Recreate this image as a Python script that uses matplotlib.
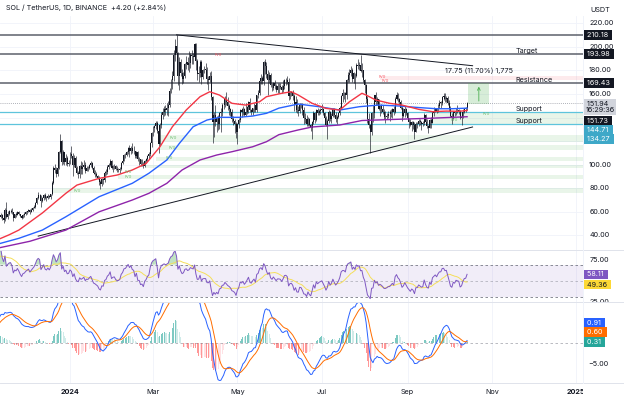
import numpy as np
import pandas as pd
import matplotlib
matplotlib.use("Agg")
import matplotlib.pyplot as plt
import matplotlib.dates as mdates
from matplotlib.lines import Line2D

plt.rcParams['font.family'] = ['Inter', 'DejaVu Sans']

# SOL/USDT daily (Binance)
# closes Oct 1 - Nov 10 2023, only used to warm up RSI / MACD
warmup_close = [23.9, 23.1, 23.3, 22.9, 22.6, 23.6, 23.4, 23.4, 22.1, 22.0,
                21.4, 21.3, 21.3, 21.5, 22.5, 24.0, 24.5, 24.4, 26.0, 29.0,
                30.0, 30.4, 31.5, 32.0, 32.5, 31.5, 32.0, 32.3, 33.5, 36.5, 38.3,
                41.6, 39.5, 39.8, 41.5, 41.0, 43.0, 42.5, 44.0, 45.5, 55.5]

# visible candles from Nov 11 2023, one line per month
close = [
    56.0, 57.5, 54.5, 53.0, 61.5, 56.0, 58.5, 60.5, 61.0, 59.5, 55.0, 58.0, 57.5, 60.0, 58.5, 56.5, 55.0, 57.5, 58.0, 59.5,
    60.5, 61.5, 60.0, 61.5, 63.0, 64.5, 67.5, 72.0, 74.5, 74.0, 69.0, 71.5, 74.5, 72.0, 71.5, 73.5, 72.5, 75.0, 84.5, 97.5, 95.5, 92.5, 97.0, 111.0, 120.5, 102.5, 110.5, 102.5, 106.0, 100.5, 101.5,
    109.5, 107.5, 99.5, 105.5, 97.0, 93.0, 92.0, 99.0, 96.5, 98.0, 100.0, 95.0, 97.5, 97.0, 99.5, 101.5, 97.5, 93.0, 92.0, 90.5, 89.0, 85.0, 83.5, 87.5, 87.0, 93.0, 94.0, 98.0, 99.5, 103.5, 97.0,
    98.5, 99.0, 96.5, 95.5, 95.5, 96.5, 101.5, 103.5, 108.0, 108.5, 111.0, 114.0, 112.0, 114.5, 112.0, 111.5, 107.0, 110.5, 104.5, 104.5, 100.5, 101.0, 98.5, 103.0, 104.5, 107.5, 109.0, 118.5, 126.5,
    131.0, 133.0, 135.5, 129.0, 117.5, 133.5, 142.5, 145.0, 147.5, 146.5, 148.0, 150.5, 162.5, 171.5, 175.0, 193.5, 201.0, 195.0, 175.5, 187.5, 178.0, 172.5, 175.0, 185.5, 187.5, 184.5, 186.5, 193.0, 192.0, 191.0, 202.5,
    188.0, 177.0, 177.5, 187.0, 174.5, 180.0, 180.5, 180.5, 172.5, 172.0, 175.5, 157.5, 136.5, 142.5, 136.0, 139.5, 134.5, 143.5, 144.5, 150.5, 151.0, 156.0, 153.0, 149.5, 147.5, 144.5, 138.5, 137.0, 134.5, 127.5,
    134.5, 138.0, 146.5, 145.0, 147.5, 142.5, 145.0, 149.0, 153.5, 146.0, 144.5, 148.0, 150.5, 146.0, 159.0, 161.0, 171.0, 173.5, 171.0, 187.0, 184.0, 177.0, 172.0, 176.0, 167.5, 165.0, 169.5, 166.5, 163.5, 166.5, 166.5,
    166.0, 163.0, 166.5, 171.5, 172.0, 170.5, 158.0, 161.0, 161.5, 158.5, 150.5, 153.5, 146.0, 145.5, 151.0, 150.5, 146.0, 139.5, 139.0, 134.5, 139.0, 134.0, 131.5, 136.5, 143.5, 138.0, 146.5, 143.5, 145.5, 146.5,
    147.5, 144.0, 140.0, 134.0, 137.0, 144.5, 139.0, 141.5, 147.0, 142.5, 138.5, 140.5, 143.5, 148.5, 158.0, 160.5, 160.5, 159.0, 171.5, 176.5, 178.0, 180.5, 173.0, 177.5, 175.0, 185.0, 183.5, 185.0, 179.5, 180.0, 172.0,
    167.5, 156.0, 139.0, 133.5, 127.5, 143.5, 144.0, 159.0, 153.0, 155.5, 147.5, 149.5, 147.5, 144.5, 140.5, 140.5, 141.5, 143.0, 143.0, 145.0, 147.0, 144.5, 156.0, 159.5, 155.5, 153.5, 148.5, 141.5, 143.5, 147.5, 143.5,
    139.5, 136.5, 133.5, 136.0, 134.0, 128.0, 134.5, 134.5, 137.5, 136.0, 134.5, 135.0, 142.0, 136.5, 132.5, 131.5, 138.0, 135.0, 143.5, 145.5, 147.5, 145.5, 149.5, 152.5, 152.5, 157.5, 158.0, 156.0, 156.5, 152.5,
    147.5, 141.0, 139.5, 144.5, 143.5, 146.5, 146.0, 145.5, 139.5, 140.5, 144.5, 147.5, 147.74, 151.94,
]
high = [
    59.5, 59.0, 58.5, 56.5, 63.5, 68.0, 60.5, 61.5, 62.0, 63.0, 60.0, 58.5, 59.5, 61.0, 60.5, 58.5, 57.0, 58.0, 60.0, 60.5,
    61.0, 62.5, 62.0, 63.0, 64.5, 66.0, 68.5, 73.0, 76.5, 75.5, 74.5, 72.5, 75.5, 76.0, 73.5, 75.0, 74.5, 75.5, 86.5, 99.0, 100.5, 98.0, 98.5, 112.0, 126.0, 121.0, 112.5, 111.0, 109.0, 107.0, 104.0,
    110.5, 115.5, 110.0, 108.0, 107.0, 98.5, 94.5, 100.0, 103.0, 102.5, 104.0, 102.5, 99.0, 99.0, 101.0, 103.5, 102.5, 98.5, 95.5, 94.0, 91.5, 90.0, 87.0, 89.0, 89.0, 94.5, 96.5, 99.5, 101.5, 105.0, 104.0,
    99.5, 101.0, 100.0, 98.5, 97.0, 98.0, 102.0, 104.5, 109.5, 110.0, 112.0, 115.0, 116.5, 116.0, 118.0, 115.5, 112.0, 112.0, 111.5, 106.5, 105.0, 104.5, 102.0, 104.0, 106.0, 108.5, 110.5, 119.5, 128.0,
    132.5, 134.0, 137.5, 137.0, 131.5, 135.0, 144.5, 148.0, 150.0, 150.5, 152.5, 154.0, 165.0, 172.5, 179.5, 197.5, 206.5, 210.2, 196.0, 191.0, 189.5, 181.0, 178.5, 186.5, 192.5, 191.0, 196.5, 194.5, 197.0, 194.5, 203.5,
    203.0, 189.5, 184.0, 188.5, 188.5, 181.5, 183.5, 186.5, 182.5, 175.0, 178.5, 179.5, 158.0, 145.0, 150.5, 141.0, 142.0, 145.0, 148.5, 152.5, 154.5, 158.0, 162.0, 157.5, 151.5, 148.5, 147.0, 141.5, 139.0, 136.5,
    135.5, 139.5, 147.5, 148.5, 149.5, 148.5, 152.0, 150.0, 154.0, 156.5, 147.0, 148.5, 152.0, 151.0, 159.5, 163.5, 172.5, 177.0, 175.0, 188.0, 189.5, 187.0, 180.0, 178.5, 177.5, 169.5, 170.5, 171.5, 168.5, 169.5, 169.0,
    169.0, 167.5, 172.0, 172.5, 174.0, 175.5, 174.0, 162.5, 162.0, 163.0, 160.0, 158.5, 155.5, 149.5, 152.5, 152.5, 152.0, 149.0, 144.0, 142.5, 140.5, 140.0, 134.5, 137.5, 145.5, 144.5, 147.5, 148.5, 147.0, 148.0,
    151.5, 148.5, 145.0, 141.0, 139.0, 146.5, 145.5, 143.5, 148.5, 148.5, 145.0, 142.5, 145.0, 150.0, 159.5, 164.5, 162.0, 162.0, 173.0, 178.5, 181.0, 184.0, 182.0, 178.5, 178.0, 186.5, 189.5, 187.0, 193.0, 186.0, 180.5,
    173.0, 168.5, 158.0, 143.5, 134.5, 144.5, 150.5, 159.5, 162.0, 157.5, 156.0, 151.0, 151.5, 151.0, 147.5, 145.5, 143.5, 145.5, 146.0, 147.5, 148.5, 149.5, 157.5, 161.5, 161.0, 156.5, 154.5, 150.0, 148.0, 149.5, 148.5,
    144.5, 139.5, 139.0, 137.5, 137.5, 136.0, 136.0, 136.5, 138.5, 138.5, 137.5, 137.0, 143.5, 143.0, 138.5, 133.5, 139.0, 140.5, 145.5, 149.0, 148.5, 148.0, 151.5, 154.5, 154.0, 158.5, 161.0, 160.5, 158.5, 158.0,
    155.0, 150.0, 143.5, 145.5, 145.0, 148.0, 150.5, 147.5, 146.0, 142.5, 147.0, 148.5, 149.0, 153.0,
]
low = [
    52.5, 55.0, 53.0, 50.5, 52.5, 55.0, 54.0, 57.5, 59.0, 58.5, 52.0, 54.5, 56.0, 57.0, 57.5, 55.5, 53.5, 54.5, 56.0, 57.0,
    58.5, 60.0, 58.5, 59.5, 60.5, 63.0, 63.5, 67.0, 71.0, 71.0, 64.5, 68.5, 70.0, 70.5, 69.5, 71.0, 71.5, 70.5, 74.0, 84.0, 93.0, 89.5, 90.5, 96.0, 110.0, 100.0, 101.0, 100.0, 99.5, 98.5, 99.0,
    101.0, 106.0, 90.0, 98.0, 95.0, 92.0, 89.0, 88.5, 92.5, 92.0, 96.5, 93.0, 94.5, 95.0, 96.0, 98.0, 96.5, 92.0, 89.5, 89.5, 87.5, 83.0, 79.5, 82.0, 84.0, 85.5, 91.5, 92.5, 96.0, 98.5, 96.0,
    93.5, 96.5, 95.5, 94.0, 94.0, 93.0, 95.5, 101.0, 103.0, 106.0, 107.5, 109.5, 106.5, 109.5, 110.0, 109.0, 105.5, 106.0, 103.5, 100.0, 98.5, 99.0, 97.5, 98.0, 102.0, 103.5, 105.0, 107.5, 115.0,
    124.5, 127.5, 130.5, 127.0, 110.0, 116.5, 131.0, 139.0, 141.0, 142.5, 142.5, 141.5, 149.0, 160.5, 164.0, 171.0, 188.0, 190.0, 167.5, 163.0, 175.5, 168.5, 169.0, 173.5, 181.5, 180.0, 178.5, 182.0, 185.5, 185.5, 189.5,
    180.5, 171.5, 170.0, 174.5, 168.5, 172.5, 178.0, 178.5, 168.5, 163.5, 170.0, 155.0, 118.0, 123.5, 132.5, 128.0, 129.5, 130.5, 127.5, 141.0, 147.5, 149.0, 151.0, 146.5, 142.5, 141.5, 136.0, 133.5, 126.5, 123.0,
    117.5, 131.5, 136.5, 140.5, 142.0, 141.0, 141.5, 143.0, 144.0, 145.0, 142.0, 142.5, 145.0, 144.5, 145.0, 156.5, 159.5, 168.5, 168.5, 168.0, 177.0, 174.0, 159.0, 169.5, 166.0, 162.5, 163.5, 164.0, 161.5, 160.5, 161.0,
    164.5, 160.5, 162.0, 164.0, 168.0, 168.5, 154.5, 155.5, 158.0, 155.0, 145.5, 145.0, 143.5, 141.5, 144.0, 148.5, 142.5, 134.5, 135.5, 133.0, 132.5, 132.5, 129.0, 122.0, 134.5, 135.0, 137.5, 142.0, 142.5, 143.0,
    145.0, 142.5, 138.0, 133.0, 121.5, 135.5, 137.0, 135.5, 140.5, 140.5, 136.5, 134.5, 140.0, 142.5, 147.0, 153.5, 156.0, 153.5, 156.0, 170.5, 170.0, 175.0, 170.5, 169.5, 164.5, 174.5, 181.0, 180.5, 178.5, 174.5, 170.5,
    161.0, 152.0, 135.5, 131.0, 110.0, 125.5, 136.5, 140.0, 150.5, 150.5, 146.5, 141.5, 143.5, 143.0, 139.0, 135.5, 138.5, 139.5, 137.5, 140.5, 139.5, 142.0, 143.5, 154.5, 153.5, 150.5, 147.0, 137.5, 140.5, 140.5, 142.0,
    137.5, 131.5, 132.5, 128.5, 130.0, 121.5, 127.5, 131.0, 133.0, 133.5, 129.5, 132.5, 133.5, 135.5, 131.0, 126.5, 131.0, 131.5, 135.0, 141.5, 144.5, 143.5, 144.5, 148.5, 148.5, 151.0, 154.5, 153.5, 153.5, 151.0,
    145.5, 140.5, 134.5, 138.5, 141.5, 142.5, 143.5, 143.0, 139.0, 134.0, 140.0, 143.5, 145.0, 146.5,
]

# moving averages as drawn on the chart (EMA 50 / 100 / 200)
ema50_dates = ['2023-11-11', '2023-11-18', '2023-11-25', '2023-12-12', '2023-12-29', '2024-01-06', '2024-01-22',
               '2024-02-04', '2024-02-15', '2024-02-25', '2024-03-06', '2024-03-15', '2024-03-25', '2024-04-04',
               '2024-04-11', '2024-04-18', '2024-04-27', '2024-05-07', '2024-05-17', '2024-05-22', '2024-06-02',
               '2024-06-09', '2024-06-14', '2024-06-24', '2024-07-04', '2024-07-14', '2024-07-21', '2024-07-30',
               '2024-08-02', '2024-08-09', '2024-08-19', '2024-08-28', '2024-09-09', '2024-09-19', '2024-09-29',
               '2024-10-08', '2024-10-14']
ema50 = [37.0, 40.5, 44.5, 59.0, 75.7, 82.7, 88.4, 91.2, 95.5, 101.0, 115.2, 132.2, 146.4, 157.7, 161.9, 159.1,
         152.1, 150.6, 153.4, 157.7, 160.6, 161.9, 159.1, 152.1, 147.8, 146.4, 153.4, 160.6, 159.1, 154.9, 152.1,
         150.6, 147.0, 145.0, 145.5, 145.3, 146.0]
ema100_dates = ['2023-11-11', '2023-11-25', '2023-12-12', '2023-12-29', '2024-01-22', '2024-02-15', '2024-02-27',
                '2024-03-11', '2024-03-20', '2024-03-30', '2024-04-09', '2024-04-18', '2024-05-02', '2024-05-12',
                '2024-05-22', '2024-05-31', '2024-06-14', '2024-06-29', '2024-07-14', '2024-07-28', '2024-08-11',
                '2024-08-26', '2024-09-09', '2024-09-22', '2024-10-03', '2024-10-14']
ema100 = [33.0, 37.5, 44.5, 55.8, 72.8, 84.2, 92.7, 104.0, 118.0, 132.2, 137.9, 140.2, 140.2, 141.3, 143.6, 148.0,
          151.5, 149.2, 146.4, 149.2, 150.6, 149.8, 148.5, 147.5, 147.5, 148.0]
ema200_dates = ['2023-11-11', '2023-12-03', '2023-12-29', '2024-01-22', '2024-02-15', '2024-02-27', '2024-03-11',
                '2024-03-22', '2024-04-04', '2024-04-16', '2024-04-27', '2024-05-12', '2024-05-22', '2024-05-31',
                '2024-06-14', '2024-06-24', '2024-07-14', '2024-07-30', '2024-08-24', '2024-09-17', '2024-10-14']
ema200 = [29.5, 35.0, 44.5, 60.0, 70.0, 75.7, 84.2, 95.5, 104.0, 108.2, 111.0, 115.2, 119.5, 125.5, 129.5, 132.0,
          133.7, 137.5, 138.5, 139.4, 140.7]

# drawings
trend_up_dates = ['2023-12-09', '2024-10-18']
trend_up = [39.4, 132.0]
trend_dn_dates = ['2024-03-18', '2024-10-18']
trend_dn = [210.2, 184.0]
dark_levels = [210.18, 193.98, 169.43]
support_levels = [144.71, 134.27]
last_price = 151.94
fvg_start = ['2023-12-20', '2024-02-05', '2024-02-24', '2024-03-03', '2024-03-06', '2024-03-06', '2024-09-19']
fvg_low = [75.7, 87.5, 97.2, 103.4, 112.4, 119.5, 134.3]
fvg_high = [80.0, 91.5, 99.8, 106.8, 116.7, 125.2, 143.6]
res_zone = ('2024-08-12', 171.9, 175.5)
measure = ('2024-10-15', '2024-10-30', 151.68, 169.43)

price_ticks = [220, 200, 180, 160, 100, 80, 60, 40]
month_ticks = ['2024-01-01', '2024-03-01', '2024-05-01', '2024-07-01', '2024-09-01', '2024-11-01', '2025-01-01']
month_labels = ['2024', 'Mar', 'May', 'Jul', 'Sep', 'Nov', '2025']

assert len(close) == len(high) == len(low)

# ---------------------------------------------------------------
dates = pd.date_range('2023-11-11', periods=len(close), freq='D')
xd = mdates.date2num(dates)
c = np.array(close)
o = np.array([warmup_close[-1]] + close[:-1])
h = np.maximum(np.array(high), np.maximum(o, c))
l = np.minimum(np.array(low), np.minimum(o, c))

full = pd.Series(warmup_close + close, dtype=float)
delta = full.diff()
avg_gain = delta.clip(lower=0).ewm(alpha=1 / 14, adjust=False).mean()
avg_loss = (-delta.clip(upper=0)).ewm(alpha=1 / 14, adjust=False).mean()
rsi = 100 - 100 / (1 + avg_gain / avg_loss)
rsi_ma = rsi.rolling(14).mean()
macd = full.ewm(span=12, adjust=False).mean() - full.ewm(span=26, adjust=False).mean()
signal = macd.ewm(span=9, adjust=False).mean()
hist = macd - signal
n = len(close)
rsi, rsi_ma = rsi.values[-n:], rsi_ma.values[-n:]
macd, signal, hist = macd.values[-n:], signal.values[-n:], hist.values[-n:]


def dn(s):
    return mdates.date2num(pd.to_datetime(s))


W, H = 624, 399
jan1 = dn('2024-01-01')
X0, X1 = jan1 - 50.6, jan1 + 370.8
TXT = '#131722'
GRID = '#f0f3fa'
FS = 5.2


def rect(x0, y0, x1, y1):
    return [x0 / W, 1 - y1 / H, (x1 - x0) / W, (y1 - y0) / H]


def clean(ax):
    for s in ax.spines.values():
        s.set_visible(False)
    ax.set_xticks([])
    ax.set_yticks([])
    ax.set_xlim(X0, X1)


fig = plt.figure(figsize=(W / 100, H / 100), dpi=100)
ax = fig.add_axes(rect(0, 16, 583, 250))
ax_r = fig.add_axes(rect(0, 250, 583, 302))
ax_m = fig.add_axes(rect(0, 302, 583, 383))
for a in (ax, ax_r, ax_m):
    clean(a)
    for t in month_ticks:
        a.axvline(dn(t), color=GRID, lw=0.6, zorder=0)
ax.set_ylim(27.6, 226.2)
ax_r.set_ylim(24.4, 87.8)
ax_m.set_ylim(-9.52, 9.76)

# ---- price pane
for v in range(40, 221, 20):
    ax.axhline(v, color=GRID, lw=0.6, zorder=0)
for s, lo, hi in zip(fvg_start, fvg_low, fvg_high):
    ax.fill_between([dn(s), X1], lo, hi, color='#4caf50', alpha=0.12, lw=0, zorder=1)
ax.fill_between([dn(res_zone[0]), X1], res_zone[1], res_zone[2], color='#f23645', alpha=0.1, lw=0, zorder=1)
for v in dark_levels:
    ax.axhline(v, color='#5d606b', lw=1.1, zorder=2)
for v in support_levels:
    ax.axhline(v, color='#5ec4dc', lw=0.9, zorder=2)
ax.axhline(last_price, color='#9598a1', lw=0.6, ls=(0, (1, 1.5)), zorder=2)

ax.plot(dn(trend_up_dates), trend_up, color=TXT, lw=0.7, zorder=3)
ax.plot(dn(trend_dn_dates), trend_dn, color=TXT, lw=0.7, zorder=3)

ax.vlines(xd, l, h, color=TXT, lw=0.45, zorder=4)
ax.bar(xd, np.maximum(np.abs(c - o), 0.3), bottom=np.minimum(o, c), width=0.7, color=TXT, lw=0, zorder=5)

ax.plot(dn(ema200_dates), ema200, color='#8e24aa', lw=1.0, zorder=6)
ax.plot(dn(ema100_dates), ema100, color='#2962ff', lw=1.0, zorder=6)
ax.plot(dn(ema50_dates), ema50, color='#f23645', lw=1.0, zorder=6)

mx0, mx1 = dn(measure[0]), dn(measure[1])
ax.fill_between([mx0, mx1], measure[2], measure[3], color='#4caf50', alpha=0.22, lw=0, zorder=3)
ax.annotate('', xy=((mx0 + mx1) / 2, measure[3] - 0.8), xytext=((mx0 + mx1) / 2, measure[2]),
            arrowprops=dict(arrowstyle='->', color='#4caf50', lw=0.6, mutation_scale=5), zorder=4)
ax.text((mx0 + mx1) / 2, 179.5, '17.75 (11.70%) 1,775', ha='center', va='center', fontsize=FS, color=TXT)

lab_x = dn('2024-11-18')
for txt, y in [('Target', 196.7), ('Resistance', 172.2), ('Support', 147.2), ('Support', 137.3)]:
    ax.text(lab_x, y, txt, ha='left', va='center', fontsize=FS, color=TXT, zorder=7)

for s, y in [('2024-01-06', 77.6), ('2024-02-12', 93.8), ('2024-02-12', 89.5), ('2024-03-13', 105.7),
             ('2024-03-15', 114.4), ('2024-03-16', 122.6), ('2024-10-05', 137.9), ('2024-10-28', 143.0)]:
    ax.text(dn(s), y, 'FVG', fontsize=2.6, color='#66bb6a', ha='center', va='center', zorder=7)
for s, y in [('2024-04-17', 193.1), ('2024-08-14', 174.7), ('2024-08-16', 171.3)]:
    ax.text(dn(s), y, 'FVG', fontsize=2.6, color='#f7525f', ha='center', va='center', zorder=7)

# ---- RSI pane
ax_r.axhspan(30, 70, color='#7e57c2', alpha=0.1, lw=0)
for v, al in [(70, 1), (30, 1), (50, 0.5)]:
    ax_r.axhline(v, color='#787b86', lw=0.6, ls=(0, (3, 3)), alpha=al)
ax_r.fill_between(xd, rsi, 70, where=rsi > 70, color='#4caf50', alpha=0.35, lw=0, interpolate=True)
ax_r.plot(xd, rsi_ma, color='#f5df5a', lw=0.7)
ax_r.plot(xd, rsi, color='#7e57c2', lw=0.7)

# ---- MACD pane
ax_m.axhline(0, color='#787b86', lw=0.6, ls=(0, (3, 3)), alpha=0.6)
cols = []
for i, v in enumerate(hist):
    prev = hist[i - 1] if i else 0
    if v >= 0:
        cols.append('#26a69a' if v > prev else '#b2dfdb')
    else:
        cols.append('#ff5252' if v < prev else '#ffcdd2')
ax_m.bar(xd, hist, width=0.7, color=cols, alpha=0.6, lw=0)
ax_m.plot(xd, macd, color='#2962ff', lw=0.7)
ax_m.plot(xd, signal, color='#ff6d00', lw=0.7)

# ---- right-hand scales
def side(y0, y1, ylim):
    a = fig.add_axes(rect(583, y0, 624, y1))
    a.set_xlim(0, 1)
    a.set_ylim(*ylim)
    a.axis('off')
    return a


def tag(a, y, text, fc, tc='white'):
    a.text(0.06, y, text, ha='left', va='center', fontsize=FS, color=tc, linespacing=1.0,
           bbox=dict(boxstyle='square,pad=0.25', fc=fc, ec='none'))


sp = side(16, 250, ax.get_ylim())
for v in price_ticks:
    sp.text(0.15, v, f'{v:.2f}', ha='left', va='center', fontsize=FS, color=TXT)
for v in dark_levels:
    tag(sp, v, f' {v:.2f} ', TXT)
tag(sp, 148.9, ' 151.94  \n16:29:36', '#d1d4dc', TXT)
tag(sp, 137.3, ' 151.73 ', TXT)
tag(sp, 129.3, ' 144.71 ', '#3ea8c8')
tag(sp, 121.6, ' 134.27 ', '#3ea8c8')

sr = side(250, 302, ax_r.get_ylim())
for v in [75, 25]:
    sr.text(0.15, v, f'{v:.2f}', ha='left', va='center', fontsize=FS, color=TXT, clip_on=True)
tag(sr, 58.11, ' 58.11 ', '#7e57c2')
tag(sr, 45.6, ' 49.36 ', '#fdd835', TXT)

sm = side(302, 383, ax_m.get_ylim())
sm.text(0.12, -5, '\u22125.00', ha='left', va='center', fontsize=FS, color=TXT)
tag(sm, 4.83, ' 0.91 ', '#2962ff')
tag(sm, 2.55, ' 0.60 ', '#ff6d00')
tag(sm, 0.31, ' 0.31 ', '#26a69a')

# ---- time scale
ta = fig.add_axes(rect(0, 383, 583, 399))
ta.set_xlim(X0, X1)
ta.set_ylim(0, 1)
ta.axis('off')
for t, lab in zip(month_ticks, month_labels):
    ta.text(dn(t), 0.45, lab, ha='center', va='center', fontsize=FS, color=TXT, clip_on=True,
            fontweight='bold' if lab.isdigit() else 'normal')

for yy in (250, 302, 383):
    fig.add_artist(Line2D([0, 1], [1 - yy / H] * 2, transform=fig.transFigure, color='#e0e3eb', lw=0.7))
fig.add_artist(Line2D([583 / W] * 2, [1 - 383 / H, 1 - 16 / H], transform=fig.transFigure, color='#f0f3fa', lw=0.7))

fig.text(6 / W, 1 - 8 / H, 'SOL / TetherUS, 1D, BINANCE  +4.20 (+2.84%)', fontsize=FS, color=TXT, va='center')
fig.text(600 / W, 1 - 10 / H, 'USDT', fontsize=FS, color=TXT, ha='center', va='center')

fig.savefig('out.png', dpi=100)
